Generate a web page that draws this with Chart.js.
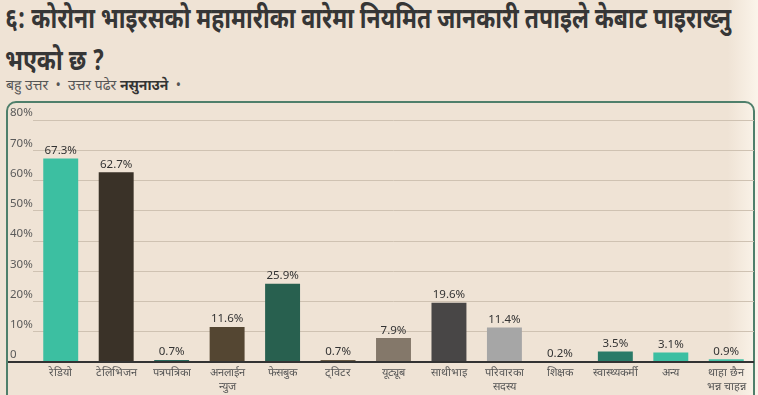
<!DOCTYPE html>
<html>
<head>
<meta charset="utf-8">
<script src="https://cdn.jsdelivr.net/npm/chart.js@4"></script>
<style>
  html,body{margin:0;padding:0;}
  body{width:758px;height:395px;overflow:hidden;position:relative;
    background:linear-gradient(to right,#efe3d5 0%,#efe3d5 96%,#fbf4ea 100%);
    font-family:"Noto Sans Devanagari","Noto Sans",sans-serif;color:#333;}
  #title{position:absolute;left:5px;top:0px;white-space:nowrap;font-size:28px;font-weight:bold;line-height:42px;color:#363636;transform:scaleX(0.82);transform-origin:0 0;}
  #sub{position:absolute;left:6px;top:77px;font-size:14px;color:#555;white-space:nowrap;}
  #sub b{color:#333;}
  #box{position:absolute;left:6px;top:101px;width:749px;height:310px;border:2px solid #4f7f6b;border-radius:10px;box-sizing:border-box;}
  #wrap{position:absolute;left:8px;top:103px;width:748px;height:292px;}
</style>
</head>
<body>
<div id="title">६: कोरोना भाइरसको महामारीका वारेमा नियमित जानकारी तपाइले केबाट पाइराख्नु<br>भएको छ ?</div>
<div id="sub">बहु उत्तर &nbsp;•&nbsp; उत्तर पढेर <b>नसुनाउने</b> &nbsp;•</div>
<div id="box"></div>
<div id="wrap"><canvas id="c" width="748" height="292"></canvas></div>
<script>
const categories = ['रेडियो','टेलिभिजन','पत्रपत्रिका',['अनलाईन','न्युज'],'फेसबुक','ट्विटर','यूट्यूब','साथीभाइ',['परिवारका','सदस्य'],'शिक्षक','स्वास्थ्यकर्मी','अन्य',['थाहा छैन','भन्न चाहन्न']];
const values = [67.3,62.7,0.7,11.6,25.9,0.7,7.9,19.6,11.4,0.2,3.5,3.1,0.9];
const barColors = ['#3cbfa1','#3a3228','#2a6a5c','#544632','#28604f','#6a5b44','#84786a','#484646','#a6a6a6','#3b2f22','#2a7a68','#3cbfa2','#44c2a6'];
const yTicks = [0,10,20,30,40,50,60,70,80];

const labelPlugin = {
  id:'vals',
  afterDatasetsDraw(chart){
    const ctx = chart.ctx;
    const meta = chart.getDatasetMeta(0);
    ctx.save();
    ctx.font = '11.5px "Noto Sans", sans-serif';
    ctx.fillStyle = '#333';
    ctx.textAlign = 'center';
    ctx.textBaseline = 'bottom';
    meta.data.forEach((el,i)=>{
      ctx.fillText(values[i].toFixed(1)+'%', el.x, el.y-2);
    });
    ctx.restore();
  }
};
const baselinePlugin = {
  id:'baseline',
  afterDatasetsDraw(chart){
    const ctx = chart.ctx;
    const y = chart.scales.y.getPixelForValue(0);
    ctx.save();
    ctx.strokeStyle = '#333';
    ctx.lineWidth = 2;
    ctx.beginPath();
    ctx.moveTo(0,y);
    ctx.lineTo(chart.chartArea.right,y);
    ctx.stroke();
    ctx.restore();
  }
};

new Chart(document.getElementById('c'),{
  type:'bar',
  data:{labels:categories,datasets:[{data:values,backgroundColor:barColors,barPercentage:0.63,categoryPercentage:1}]},
  options:{
    responsive:false,animation:false,
    layout:{padding:{top:17,right:2,left:2,bottom:0}},
    plugins:{legend:{display:false},tooltip:{enabled:false}},
    scales:{
      y:{min:0,max:80,
        afterBuildTicks(s){s.ticks = yTicks.map(v=>({value:v}));},
        afterFit(s){s.width=23;},
        border:{display:false},
        grid:{color:'#cfc2b2',lineWidth:1,drawTicks:false},
        ticks:{crossAlign:'far',padding:0,labelOffset:-7,color:'#5a5a5a',font:{size:11.5,family:'"Noto Sans", sans-serif'},
          callback:v=> v===0?'0':v+'%'}
      },
      x:{
        afterFit(s){s.height=33;},
        border:{display:false},
        grid:{display:false,drawTicks:false},
        ticks:{color:'#555',padding:4,maxRotation:0,autoSkip:false,font:{size:11,lineHeight:1.3}}
      }
    }
  },
  plugins:[labelPlugin,baselinePlugin]
});
</script>
</body>
</html>
